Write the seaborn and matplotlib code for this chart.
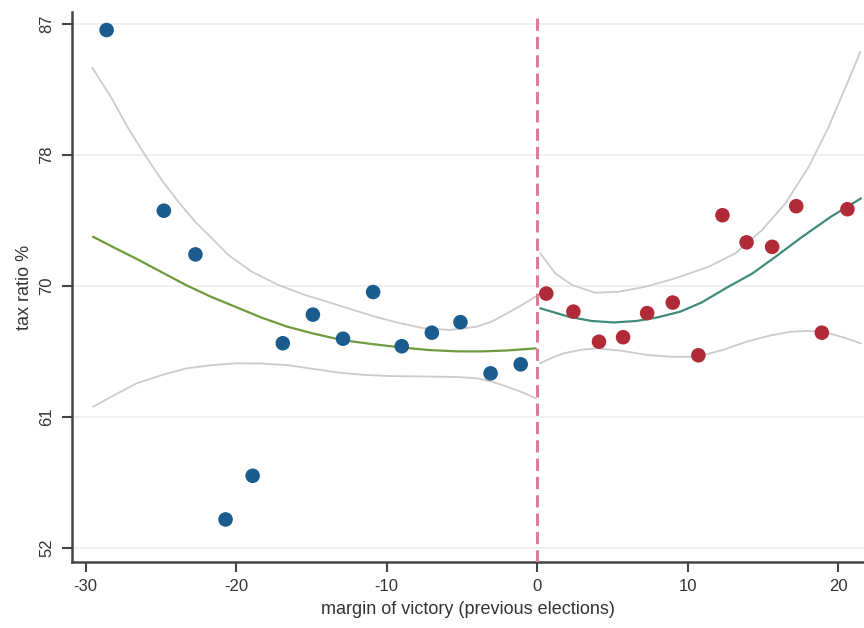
import numpy as np
import pandas as pd
import matplotlib.pyplot as plt
import seaborn as sns

# binned means, left of cutoff (lost previous election)
left_x = [-28.6, -24.8, -22.7, -20.7, -18.9, -16.9, -14.9, -12.9, -10.9, -9.0, -7.0, -5.1, -3.1, -1.1]
left_y = [86.7, 74.7, 71.8, 54.2, 57.1, 65.9, 67.8, 66.2, 69.3, 65.7, 66.6, 67.3, 63.9, 64.5]

# binned means, right of cutoff (won previous election)
right_x = [0.6, 2.4, 4.1, 5.7, 7.3, 9.0, 10.7, 12.3, 13.9, 15.6, 17.2, 18.9, 20.6]
right_y = [69.2, 68.0, 66.0, 66.3, 67.9, 68.6, 65.1, 74.4, 72.6, 72.3, 75.0, 66.6, 74.8]

# fitted polynomial and confidence bounds, left side
fit_left_x = [-29.5, -28.0, -26.6, -25.0, -23.3, -21.7, -20.0, -18.3, -16.6, -14.9,
              -12.9, -11.0, -9.1, -7.2, -5.3, -3.6, -2.0, -0.1]
fit_left_y = [72.97, 72.2, 71.5, 70.65, 69.75, 69.0, 68.3, 67.6, 67.0, 66.55,
              66.1, 65.85, 65.63, 65.45, 65.36, 65.36, 65.42, 65.56]
hi_left_x = [-29.55, -28.26, -27.16, -26.05, -24.94, -23.84, -22.72, -21.61, -20.51, -18.96,
             -17.19, -15.42, -14.09, -12.5, -10.9, -9.2, -7.55, -5.8, -4.0, -3.0, -2.0, -1.0, -0.13]
hi_left_y = [84.20, 82.16, 80.17, 78.40, 76.74, 75.30, 73.97, 72.87, 71.76, 70.65,
             69.77, 69.10, 68.70, 68.2, 67.7, 67.25, 66.9, 66.78, 67.0, 67.35, 67.89, 68.45, 68.99]
lo_left_x = [-29.5, -28.0, -26.6, -24.9, -23.3, -21.6, -20.0, -18.3, -16.6, -14.9, -13.1,
             -11.5, -9.8, -8.1, -6.5, -5.2, -4.0, -3.0, -2.0, -1.0, -0.1]
lo_left_y = [61.68, 62.5, 63.24, 63.8, 64.23, 64.45, 64.57, 64.55, 64.45, 64.2, 63.94,
             63.8, 63.72, 63.7, 63.68, 63.65, 63.57, 63.35, 63.01, 62.65, 62.24]

# fitted polynomial and confidence bounds, right side
fit_right_x = [0.2, 2.1, 3.6, 5.1, 6.6, 8.0, 9.5, 10.9, 12.6, 14.3, 15.9, 17.6, 19.5, 21.5]
fit_right_y = [68.22, 67.66, 67.38, 67.28, 67.38, 67.62, 68.0, 68.6, 69.6, 70.54, 71.7, 72.97, 74.3, 75.52]
hi_right_x = [0.2, 1.2, 2.31, 3.85, 5.4, 7.18, 9.17, 11.38, 13.16, 14.93, 16.48, 18.03, 19.36, 20.68, 21.46]
hi_right_y = [71.87, 70.54, 69.77, 69.25, 69.32, 69.65, 70.21, 70.98, 71.87, 73.42, 75.19, 77.62, 80.28, 83.38, 85.26]
lo_right_x = [0.2, 1.0, 1.75, 3.0, 4.0, 5.6, 7.3, 9.0, 10.6, 12.3, 13.9, 15.4, 16.8, 18.0, 19.0, 20.3, 21.5]
lo_right_y = [64.57, 64.95, 65.23, 65.48, 65.56, 65.4, 65.12, 65.0, 65.0, 65.45, 66.0, 66.4, 66.66, 66.72, 66.66, 66.3, 65.89]

y_ticks = [52.3, 61.0, 69.7, 78.4, 87.1]
y_tick_labels = ["52", "61", "70", "78", "87"]
x_ticks = [-30, -20, -10, 0, 10, 20]

sns.set_theme(style="white")
plt.rcParams['font.family'] = ['Liberation Sans', 'DejaVu Sans']
plt.rcParams['axes.unicode_minus'] = False

fig = plt.figure(figsize=(8.64, 6.28), dpi=100)
ax = fig.add_axes([0.0833, 0.105, 0.9167, 0.876])

grey = '#cbcbcb'
for xs, ys in [(hi_left_x, hi_left_y), (lo_left_x, lo_left_y),
               (hi_right_x, hi_right_y), (lo_right_x, lo_right_y)]:
    sns.lineplot(x=xs, y=ys, ax=ax, color=grey, linewidth=1.3, sort=False, estimator=None)

sns.lineplot(x=fit_left_x, y=fit_left_y, ax=ax, color='#6e9a3e', linewidth=1.6, sort=False, estimator=None)
sns.lineplot(x=fit_right_x, y=fit_right_y, ax=ax, color='#3f8a78', linewidth=1.6, sort=False, estimator=None)

sns.scatterplot(x=left_x, y=left_y, ax=ax, color='#1b5c8e', s=110, edgecolor='none', zorder=4)
sns.scatterplot(x=right_x, y=right_y, ax=ax, color='#b02a38', s=110, edgecolor='none', zorder=4)

ax.axvline(0, color='#e07a9a', linestyle=(0, (4, 2)), linewidth=2.2, zorder=3)

ax.set_xlim(-30.9, 21.7)
ax.set_ylim(51.37, 87.9)
ax.set_yticks(y_ticks)
ax.set_yticklabels(y_tick_labels, rotation=90, va='center')
ax.set_xticks(x_ticks)
ax.grid(axis='y', color='#eeeeee', linewidth=1.2)
ax.set_axisbelow(True)

for side in ['top', 'right']:
    ax.spines[side].set_visible(False)
for side in ['left', 'bottom']:
    ax.spines[side].set_color('#444444')
    ax.spines[side].set_linewidth(1.8)

ax.tick_params(axis='both', which='both', length=7, width=1.5, color='#444444',
               labelsize=12, labelcolor='#333333', left=True, bottom=True)
ax.tick_params(axis='y', pad=6)
ax.tick_params(axis='x', pad=5)

ax.set_xlabel('margin of victory (previous elections)', fontsize=13, color='#333333', labelpad=5)
ax.set_ylabel('tax ratio %', fontsize=13, color='#333333', labelpad=4)

plt.savefig('out.png', dpi=100)
plt.close()
